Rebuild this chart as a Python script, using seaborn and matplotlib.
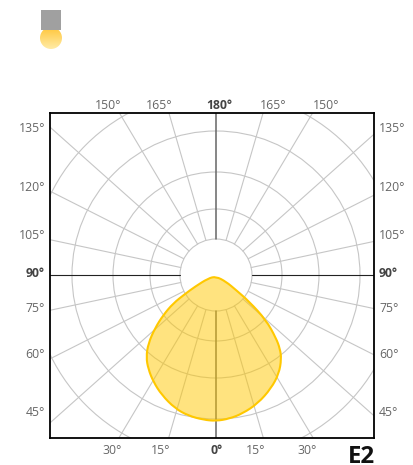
import numpy as np
import pandas as pd
import seaborn as sb
import matplotlib
matplotlib.use('Agg')
import matplotlib.pyplot as plt
from matplotlib.patches import Circle, Rectangle, PathPatch
from matplotlib.path import Path
from matplotlib.colors import LinearSegmentedColormap

# light distribution outline, gamma in degrees, intensity in chart units
gamma = [0, 5.3, 10.9, 18, 25.9, 32.6, 37.9, 40.9, 43.6, 48, 51.3, 53.1, 56.2, 0,
         -66.8, -60.9, -58.5, -56.5, -52.8, -48.9, -44.7, -40.4, -35.8, -30.4, -24.3,
         -17.1, -11.1, -5]
intensity = [146, 144.3, 141, 135.1, 126.1, 116.9, 106.4, 97.8, 87, 67.3, 42.7, 25, 12, 1.5,
             8.4, 24, 36.4, 51.2, 66.2, 81, 96.2, 107.7, 115.8, 123.8, 131.7,
             139.5, 143.4, 145.3]

circles = [36, 66, 103, 144, 184]
spokes = [16.2, 30.8, 48.3, 63.2, 78]

left_labels = ['135°', '120°', '105°', '90°', '75°', '60°', '45°']
top_labels = ['150°', '165°', '180°', '165°', '150°']
bottom_labels = ['30°', '15°', '0°', '15°', '30°']

W, H = 414, 465
CX, CY = 216, 275
GRID = '#c6c6c6'
TXT = '#666666'

sb.set_style('white')
plt.rcParams['font.family'] = ['Open Sans', 'DejaVu Sans']

df = pd.DataFrame({'gamma': gamma, 'intensity': intensity})
df['x'] = df['intensity'] * np.sin(np.radians(df['gamma']))
df['y'] = -df['intensity'] * np.cos(np.radians(df['gamma']))

fig = plt.figure(figsize=(W / 100, H / 100), dpi=100)
ax = fig.add_axes([50 / W, 1 - 438 / H, 324 / W, 324.5 / H])

for r in circles:
    ax.add_patch(Circle((0, 0), r, fill=False, ec=GRID, lw=0.8, zorder=1))

# spokes, from the inner circle out past the frame
rows = []
k = 0
for s in spokes:
    a = np.radians(s)
    for sx in (-1, 1):
        for sy in (-1, 1):
            rows.append((k, sx * circles[0] * np.sin(a), sy * circles[0] * np.cos(a)))
            rows.append((k, sx * 400 * np.sin(a), sy * 400 * np.cos(a)))
            k += 1
spoke_df = pd.DataFrame(rows, columns=['spoke', 'x', 'y'])
sb.lineplot(data=spoke_df, x='x', y='y', units='spoke', estimator=None, sort=False,
            color=GRID, lw=0.8, ax=ax, zorder=1)

# main axes of the diagram
ax.plot([-400, -circles[0]], [0, 0], color='#222222', lw=0.8, zorder=2)
ax.plot([circles[0], 400], [0, 0], color='#222222', lw=0.8, zorder=2)
ax.plot([0, 0], [circles[0], 400], color='#666666', lw=1.1, zorder=2)
ax.plot([0, 0], [-circles[0], -400], color='#666666', lw=1.1, zorder=2)

# smooth closed outline: the read points are the control points of the curve
pts = df[['x', 'y']].to_numpy()
mids = (pts + np.roll(pts, -1, axis=0)) / 2
verts = [mids[-1]]
codes = [Path.MOVETO]
for p, m in zip(pts, mids):
    verts += [p, m]
    codes += [Path.CURVE3, Path.CURVE3]
outline = Path(verts, codes)
ax.add_patch(PathPatch(outline, fc='#ffc800', alpha=0.5, lw=0, zorder=3))
ax.add_patch(PathPatch(outline, fc='none', ec='#ffc800', lw=1.5, zorder=4))

ax.set_xlim(50 - CX, 374 - CX)
ax.set_ylim(CY - 438, CY - 113.5)
ax.set_xlabel('')
ax.set_ylabel('')

for side in ax.spines.values():
    side.set_visible(True)
    side.set_color('black')
    side.set_linewidth(1.3)

# tick labels
ax.set_yticks([CY - p for p in (126.7, 186, 234, 271.7, 306.7, 352.5, 410.7)], left_labels)
ax.set_xticks([p - CX for p in (111.7, 161, 217, 255.7, 306.7)], bottom_labels)
ax.tick_params(axis='y', length=0, pad=3.6, labelsize=8.8, labelcolor=TXT,
               left=False, right=False, labelleft=True, labelright=True)
ax.tick_params(axis='x', length=0, pad=4, labelsize=8.8, labelcolor=TXT)

top = ax.secondary_xaxis('top')
top.set_xticks([p - CX for p in (107.7, 158.7, 219, 273, 326)], top_labels)
top.tick_params(axis='x', length=0, pad=1, labelsize=8.8, labelcolor=TXT)
top.spines['top'].set_visible(False)

for lab in (ax.get_yticklabels() + ax.get_xticklabels() + top.get_xticklabels()
            + [t.label2 for t in ax.yaxis.get_major_ticks()]):
    if lab.get_text() in ('90°', '0°', '180°'):
        lab.set_fontweight('bold')
        lab.set_color('#444444')

fig.text(348 / W, 1 - 463 / H, 'E2', fontsize=17.3, fontweight='bold', color='#111111',
         ha='left', va='baseline')

# lamp icon
icon = fig.add_axes([40 / W, 1 - 49 / H, 23 / W, 39 / H])
lamp = LinearSegmentedColormap.from_list('lamp', ['#ffc63a', '#ffeba6'])
img = icon.imshow(np.linspace(0, 1, 40).reshape(-1, 1), cmap=lamp, extent=(40, 63, 49, 27),
                  aspect='auto', zorder=1)
icon.set_xlim(40, 63)
icon.set_ylim(49, 10)
icon.axis('off')
img.set_clip_path(Circle((51, 38), 11, transform=icon.transData))
icon.add_patch(Rectangle((41, 10), 20, 20, fc='#a0a0a0', ec='none', zorder=2))

fig.savefig('out.png', dpi=100)
